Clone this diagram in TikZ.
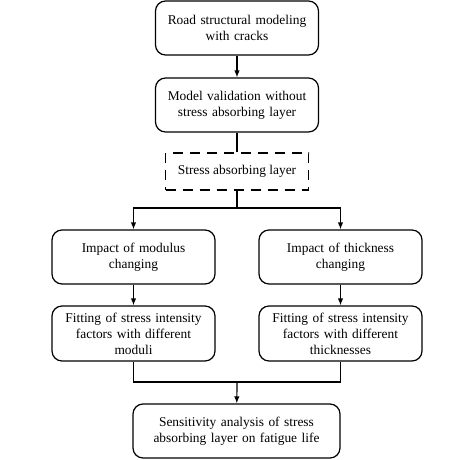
\documentclass[tikz,border=0pt]{standalone}
\usepackage{fontspec}
\setmainfont{Liberation Serif}
\usetikzlibrary{arrows.meta}

\begin{document}
\begin{tikzpicture}[x=1pt, y=-1pt, line width=1.2pt,
        box/.style={draw, rounded corners=10pt, align=center, inner sep=2pt,
            minimum width=163pt, minimum height=54pt, text width=158pt,
            font=\fontsize{13.4}{16}\selectfont},
        dbox/.style={draw, dash pattern=on 10pt off 7pt, align=center,
            minimum width=143pt, minimum height=37pt,
            font=\fontsize{13.4}{16}\selectfont},
        arr/.style={-{Latex[length=7pt,width=5.5pt]}}]
        \useasboundingbox (0,0) rectangle (474,460);
        % Modelado (arriba)
        \node[box] (road) at (237,28) {Road structural modeling\\with cracks};
        \node[box] (valid) at (237,105) {Model validation without\\stress absorbing layer};
        \node[dbox] (sal) at (237,171.5) {Stress absorbing layer};
        % Ramas
        \node[box] (modulus) at (133.5,257) {Impact of modulus\\changing};
        \node[box] (thick) at (340.5,257) {Impact of thickness\\changing};
        \node[box, minimum height=55pt] (fitmod) at (133.5,333.5) {Fitting of stress intensity\\factors with different\\moduli};
        \node[box, minimum height=55pt] (fitthk) at (340.5,333.5) {Fitting of stress intensity\\factors with different\\thicknesses};
        % Resultado (abajo)
        \node[box, minimum width=207pt, text width=200pt] (sens) at (236.5,431) {Sensitivity analysis of stress\\absorbing layer on fatigue life};
        \coordinate (split) at (237,208);
        \coordinate (join) at (237,382);
        % Conectores
        \draw[arr] (road) -- (valid);
        \draw (valid) -- (sal);
        \draw (sal) -- (split);
        \draw[arr] (split) -| (modulus);
        \draw[arr] (split) -| (thick);
        \draw[arr] (modulus) -- (fitmod);
        \draw[arr] (thick) -- (fitthk);
        \draw (fitmod) |- (join);
        \draw (fitthk) |- (join);
        \draw[arr] (join) -- (sens);
    \end{tikzpicture}
\end{document}
